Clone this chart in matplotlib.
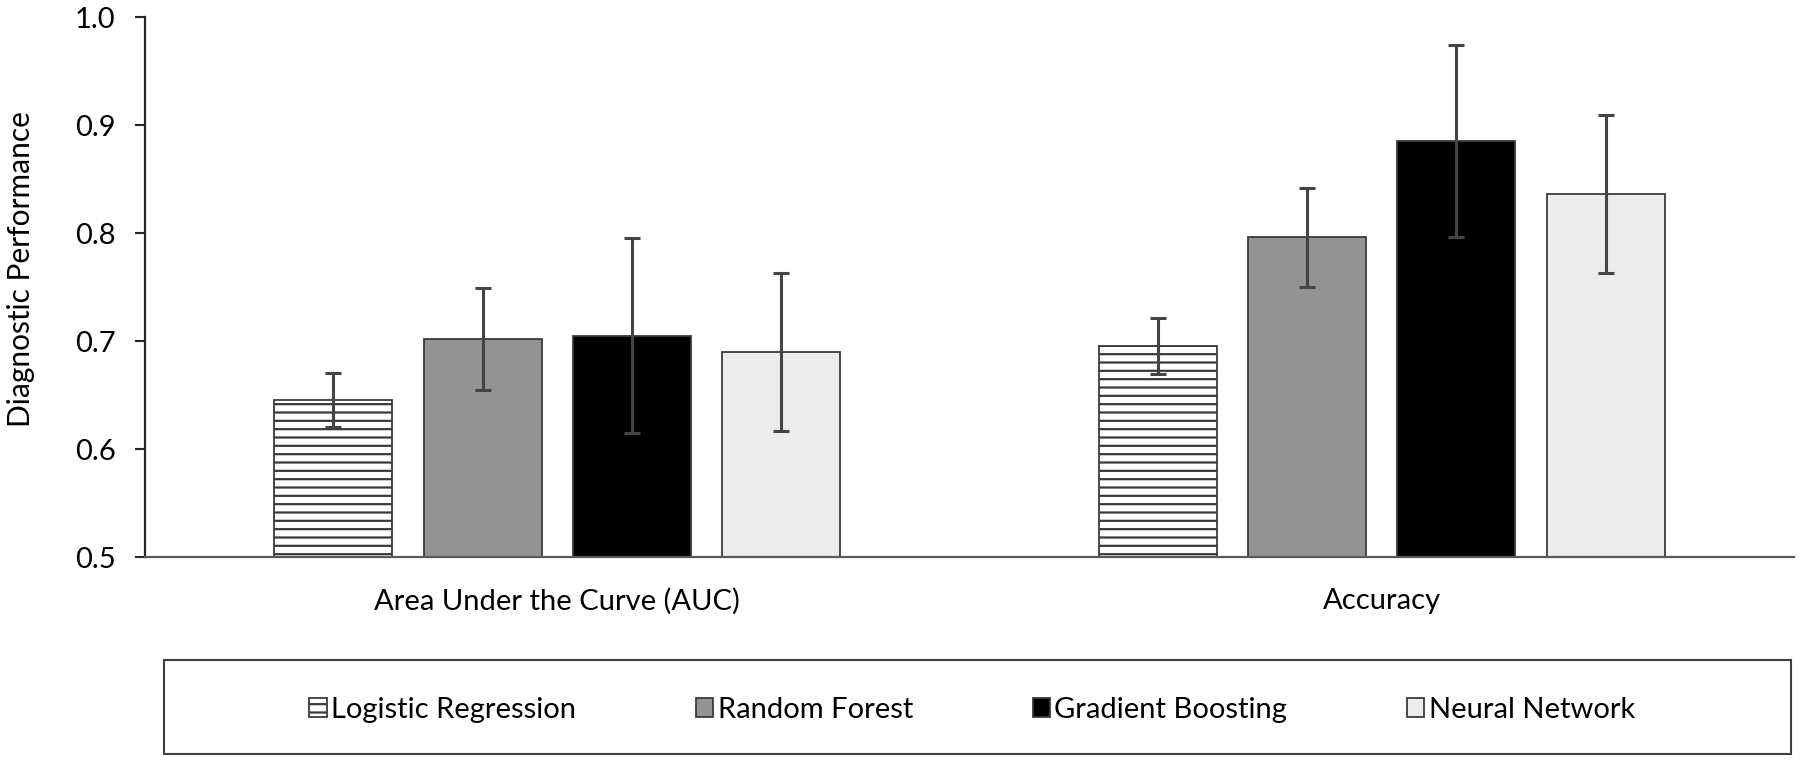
import matplotlib
matplotlib.use("Agg")
import matplotlib.pyplot as plt
import matplotlib.patches as mpatches
import numpy as np

plt.rcParams['font.family'] = ['Lato', 'DejaVu Sans']
plt.rcParams['hatch.color'] = '#8c8c8c'
plt.rcParams['hatch.linewidth'] = 1.6

categories = ["Area Under the Curve (AUC)", "Accuracy"]
models = ["Logistic Regression", "Random Forest", "Gradient Boosting", "Neural Network"]
values = {
    "Logistic Regression": [0.645, 0.695],
    "Random Forest": [0.702, 0.796],
    "Gradient Boosting": [0.705, 0.885],
    "Neural Network": [0.690, 0.836],
}
errors = {
    "Logistic Regression": [0.025, 0.026],
    "Random Forest": [0.047, 0.046],
    "Gradient Boosting": [0.090, 0.089],
    "Neural Network": [0.073, 0.073],
}
colors = ["white", "#939393", "#000000", "#ececec"]
hatches = ["--", None, None, None]
yticks = [0.5, 0.6, 0.7, 0.8, 0.9, 1.0]

fig = plt.figure(figsize=(18, 7.6), dpi=100)
ax = fig.add_axes([145/1800, 1-557/760, 1649/1800, 540/760])

x = np.arange(len(categories))
width = 0.143
step = 0.181
handles = []
for i, m in enumerate(models):
    off = (i - 1.5) * step
    b = ax.bar(x + off, values[m], width, bottom=0, color=colors[i],
               edgecolor='#3a3a3a', linewidth=1.3, hatch=hatches[i], zorder=2, label=m)
    ax.errorbar(x + off, values[m], yerr=errors[m], fmt='none', ecolor='#444444',
                elinewidth=2.2, capsize=6, capthick=2.2, zorder=3)
    handles.append(b)

ax.set_ylim(0.5, 1.0)
ax.set_xlim(-0.5, 1.5)
ax.set_yticks(yticks)
ax.set_yticklabels([f"{t:.1f}" for t in yticks], fontsize=21)
ax.set_xticks(x)
ax.set_xticklabels(categories, fontsize=21)
ax.tick_params(axis='x', length=0, pad=22)
ax.tick_params(axis='y', length=7.2, width=1.5, color='#262626', pad=14)
ax.spines['top'].set_visible(False)
ax.spines['right'].set_visible(False)
ax.spines['left'].set_color('#262626')
ax.spines['left'].set_linewidth(1.6)
ax.spines['bottom'].set_color('#595959')
ax.spines['bottom'].set_linewidth(1.6)
fig.text(21/1800, 1-269/760, "Diagnostic Performance", rotation=90,
         ha='center', va='center', fontsize=21.5)

# legend box
box = mpatches.Rectangle((164/1800, 1-754/760), (1791-164)/1800, 94/760,
                         transform=fig.transFigure, fill=False,
                         edgecolor='#404040', linewidth=1.5)
fig.add_artist(box)
fig.legend(handles=handles, labels=models, loc='center',
           bbox_to_anchor=((164+1791)/2/1800 - 0.003, 1-710/760), ncol=4, frameon=False,
           fontsize=21, handlelength=0.6, handleheight=0.6, handletextpad=0.15,
           columnspacing=4.1)

fig.savefig("out.png", dpi=100)
